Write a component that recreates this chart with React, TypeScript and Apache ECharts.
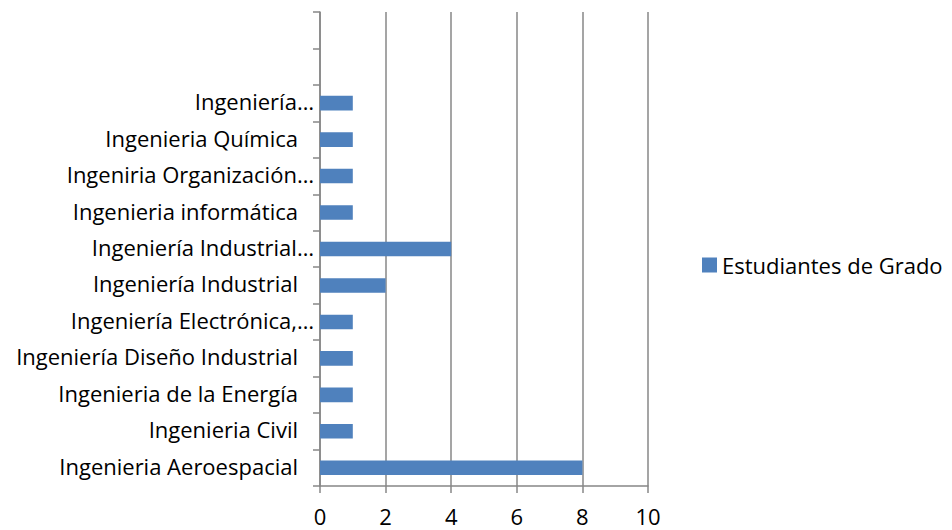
import React, { useEffect, useRef } from "react";
import * as echarts from "echarts";

const categories: string[] = [
  "Ingenieria Aeroespacial",
  "Ingenieria Civil",
  "Ingenieria de la Energía",
  "Ingeniería Diseño Industrial",
  "Ingeniería Electrónica,…",
  "Ingeniería Industrial",
  "Ingeniería Industrial…",
  "Ingenieria informática",
  "Ingeniria Organización…",
  "Ingenieria Química",
  "Ingeniería…",
  "",
  "",
];
const values: (number | null)[] = [8, 1, 1, 1, 1, 2, 4, 1, 1, 1, 1, null, null];
const seriesName = "Estudiantes de Grado";
const xMin = 0;
const xMax = 10;
const xInterval = 2;

const FONT = "'Open Sans', sans-serif";
const AXIS_COLOR = "#878787";

export default function App() {
  const ref = useRef<HTMLDivElement>(null);
  useEffect(() => {
    if (!ref.current) return;
    const chart = echarts.init(ref.current, null, { renderer: "svg" });
    chart.setOption({
      animation: false,
      backgroundColor: "#ffffff",
      textStyle: { fontFamily: FONT },
      grid: { left: 320, right: 304, top: 12, bottom: 44, containLabel: false },
      legend: {
        data: [seriesName],
        orient: "vertical",
        left: 702,
        top: "middle",
        padding: 0,
        icon: "rect",
        itemWidth: 15,
        itemHeight: 15,
        itemGap: 6,
        textStyle: { fontSize: 22, color: "#000", fontFamily: FONT },
      },
      xAxis: {
        type: "value",
        min: xMin,
        max: xMax,
        interval: xInterval,
        axisLine: { show: true, lineStyle: { color: AXIS_COLOR, width: 1.5 } },
        axisTick: { show: true, length: 7, lineStyle: { color: AXIS_COLOR, width: 1.5 } },
        splitLine: { show: true, lineStyle: { color: AXIS_COLOR, width: 1.5 } },
        axisLabel: { fontSize: 22, color: "#000", margin: 19, fontFamily: FONT },
      },
      yAxis: {
        type: "category",
        data: categories,
        axisLine: { show: true, lineStyle: { color: AXIS_COLOR, width: 1.5 } },
        axisTick: { show: true, length: 7, lineStyle: { color: AXIS_COLOR, width: 1.5 } },
        axisLabel: {
          fontSize: 22,
          color: "#000",
          margin: 6,
          fontFamily: FONT,
          interval: 0,
          formatter: (v: string) => (v === "" ? "" : v.endsWith("…") ? `{e|${v}}` : `{n|${v}}`),
          rich: {
            e: { fontSize: 22, color: "#000", fontFamily: FONT, padding: [0, 0, 4, 0] },
            n: { fontSize: 22, color: "#000", fontFamily: FONT, padding: [0, 16, 4, 0] },
          },
        },
      },
      series: [
        {
          name: seriesName,
          type: "bar",
          data: values,
          barWidth: "40%",
          itemStyle: { color: "#4F81BD" },
        },
      ],
    });
    return () => chart.dispose();
  }, []);
  return (
    <div
      ref={ref}
      style={{ position: "fixed", left: 0, top: 0, width: 952, height: 530, background: "#fff" }}
    />
  );
}
